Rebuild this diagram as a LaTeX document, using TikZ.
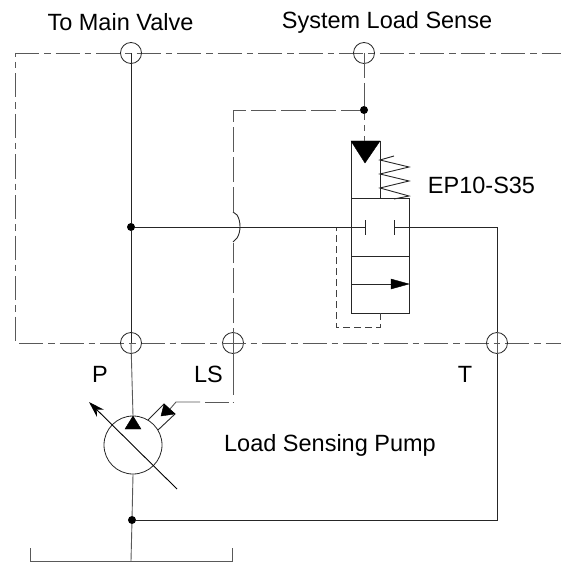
\documentclass[tikz,border=0pt]{standalone}
\usepackage{fontspec}
\setmainfont{Liberation Sans}
\usetikzlibrary{arrows.meta}
\usetikzlibrary{calc}

\tikzset{
  line/.style={line width=0.9pt,black!85},
  greyline/.style={line width=0.9pt,black!65},
  boundary/.style={greyline,dash pattern=on 24pt off 5pt on 6.5pt off 5pt},
  pilot/.style={greyline,dash pattern=on 25pt off 5pt},
  drain/.style={line width=0.9pt,black!75,dash pattern=on 7pt off 4pt},
  port/.style={circle,draw=black!85,line width=0.8pt,minimum size=21pt,inner sep=0pt},
  joint/.style={circle,fill=black,minimum size=8pt,inner sep=0pt},
  tip/.style={fill=black,draw=black,line join=miter},
  label/.style={font=\fontsize{23.5}{26}\selectfont,inner sep=0pt,anchor=base},
}

\begin{document}
\begin{tikzpicture}[x=1pt,y=-1pt]
\useasboundingbox (0,0) rectangle (561,564);

% boundary
\draw[boundary] (15,53) -- (561,53);
\draw[boundary,dash phase=20pt] (15,53) -- (15,343);
\draw[boundary] (19,343) -- (561,343);

% ports
\node[port] (main) at (131,53) {};
\node[port] (sys) at (364,53) {};
\node[port] (P) at (131,343) {};
\node[port] (LS) at (233,343) {};
\node[port] (T) at (497,343) {};
\draw[greyline] (LS.west) -- (LS.east);

% joints
\node[joint] (jP) at (131,227) {};
\node[joint] (jLS) at (364,110) {};
\node[joint] (jT) at (132,520) {};

% pump
\node[circle,draw=black!85,line width=0.8pt,minimum size=58pt,inner sep=0pt] (pump) at (133,445) {};
\draw[line] (main.center) -- (jP);
\draw[line] (jP) -- (P.center);
\draw[greyline] (P.center) -- (pump.north);
\draw[greyline] (pump.south) -- (jT);
\draw[tip] (133,416) -- (141,429) -- (125,429) -- cycle;
\draw[line,black,-{Stealth[length=16pt,width=10pt]}] (177,489) -- (89,402);

% pilot stub
\coordinate (stubA) at (148,420);
\coordinate (stubB) at (164,404);
\coordinate (stubC) at (175,414);
\coordinate (stubD) at (158,430);
\draw[line] (stubA) -- (stubB) -- (stubC) -- (stubD);
\draw[tip] (stubB) -- (stubC) -- (161,416) -- cycle;
\coordinate (stubE) at (170,409);
\coordinate (stubF) at (176,402);
\draw[greyline] (stubE) -- (stubF) -- (200,402);
\draw[greyline] (205,402) -- (229,402);
\draw[greyline] (232.5,402) -- (233.5,402);
\draw[greyline] (LS.north) -- (233,395);

% load sense line
\draw[pilot,dash phase=10pt] (LS.center) -- (233,243);
\draw[line] (233,242) -- (237,238) .. controls (241,232) and (241,221) .. (237,215) -- (233,212);
\draw[pilot] (233,212) -- (233,110) -- (jLS);
\draw[pilot] (sys.center) -- (jLS);

% valve
\draw[line] (351,141) rectangle (380,198);
\draw[line] (351,198) rectangle (409,256);
\draw[line] (351,256) rectangle (409,313);
\draw[tip] (351,141) -- (380,141) -- (365,163) -- cycle;
\draw[greyline,dash pattern=on 6pt off 5pt] (jLS) -- (364,141);
\draw[line] (394,156) -- (380,160) -- (409,167) -- (380,174) -- (409,181) -- (380,188) -- (409,196) -- (394,199);
\draw[line] (351,284) -- (392,284);
\draw[tip] (391,279) -- (409,284) -- (391,289) -- cycle;

% pressure and tank lines
\draw[line] (jP) -- (365,227);
\draw[line] (365,220) -- (365,235);
\draw[line] (394,220) -- (394,235);
\draw[line] (394,227) -- (497,227) -- (T.north);
\draw[greyline] (T.north) -- (T.south);
\draw[line] (T.south) -- (497,520) -- (jT);
\draw[drain] (380,313) -- (380,327) -- (336,327) -- (336,228);

% tank
\draw[greyline] (jT) -- (131,561);
\draw[greyline] (30,548) -- (30,561) -- (232,561) -- (232,548);

% labels
\node[label] (lmain) at (120.5,31) {To Main Valve};
\node[label] (lsys) at (387,29) {System Load Sense};
\node[label] (lep) at (481.5,193) {EP10-S35};
\node[label] (lP) at (100,382) {P};
\node[label] (lLS) at (208.5,382) {LS};
\node[label] (lT) at (465,382) {T};
\node[label] (lpump) at (330,451) {Load Sensing Pump};

\end{tikzpicture}
\end{document}
